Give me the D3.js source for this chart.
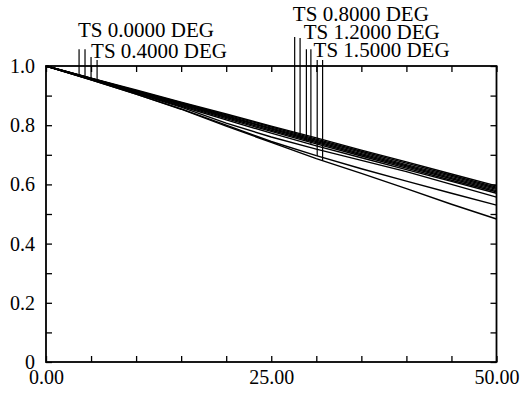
<!DOCTYPE html>
<html>
<head>
<meta charset="utf-8">
<script src="https://cdn.jsdelivr.net/npm/d3@7"></script>
<style>
  body { margin: 0; background: #fff; }
  svg text { font-family: "Liberation Serif", "Times New Roman", serif; font-size: 20px; fill: #000; }
</style>
</head>
<body>
<svg id="chart" width="523" height="398"></svg>
<script>
// sample positions along x
const xs = [0, 5, 10, 15, 20, 25, 30, 35, 40, 45, 50];

// curves, top of the bundle first
const c1 = [1, 0.959, 0.919, 0.878, 0.838, 0.797, 0.757, 0.716, 0.676, 0.635, 0.595];
const c2 = [1, 0.959, 0.917, 0.876, 0.835, 0.794, 0.753, 0.712, 0.672, 0.631, 0.591];
const c3 = [1, 0.958, 0.916, 0.874, 0.832, 0.790, 0.749, 0.708, 0.667, 0.627, 0.587];
const c4 = [1, 0.958, 0.915, 0.872, 0.829, 0.787, 0.745, 0.704, 0.663, 0.623, 0.583];
const c5 = [1, 0.957, 0.914, 0.870, 0.826, 0.783, 0.741, 0.700, 0.659, 0.619, 0.579];
const c6 = [1, 0.956, 0.912, 0.867, 0.822, 0.779, 0.737, 0.696, 0.655, 0.614, 0.575];
const c7 = [1, 0.955, 0.910, 0.864, 0.818, 0.773, 0.730, 0.690, 0.650, 0.610, 0.570];
const c8 = [1, 0.954, 0.908, 0.861, 0.807, 0.760, 0.719, 0.681, 0.643, 0.600, 0.557];
const c9 = [1, 0.953, 0.905, 0.855, 0.800, 0.745, 0.697, 0.653, 0.611, 0.570, 0.530];
const c10 = [1, 0.953, 0.905, 0.854, 0.797, 0.742, 0.687, 0.637, 0.586, 0.533, 0.483];
const curves = [c1, c2, c3, c4, c5, c6, c7, c8, c9, c10];

// label markers: x position, top level, which curve
const markerX = [3.67, 4.33, 5.0, 5.67, 27.6, 28.2, 28.9, 29.4, 30.1, 30.7];
const markerTop = [1.057, 1.057, 1.030, 1.020, 1.098, 1.095, 1.057, 1.057, 1.020, 1.020];
const markerCurve = [0, 1, 2, 7, 3, 4, 5, 6, 8, 9];

const labelText = ["TS 0.0000 DEG", "TS 0.4000 DEG", "TS 0.8000 DEG", "TS 1.2000 DEG", "TS 1.5000 DEG"];
const labelX = [3.55, 5.0, 27.4, 28.6, 29.7];
const labelY = [1.098, 1.027, 1.152, 1.091, 1.030];

const xTicks = d3.range(0, 50.01, 5);
const xLabels = [0, 25, 50];
const yTicks = d3.range(0, 1.001, 0.1);
const yLabels = [0, 0.2, 0.4, 0.6, 0.8, 1.0];

const svg = d3.select('#chart');
const pLeft = 46, pRight = 496.5, pTop = 66, pBottom = 362;

const x = d3.scaleLinear().domain([0, 50]).range([pLeft, pRight]);
const y = d3.scaleLinear().domain([0, 1]).range([pBottom, pTop]);

// ticks, all pointing inward
const tickAxes = [
  [d3.axisBottom(x).tickValues(xTicks), `translate(0,${pBottom})`],
  [d3.axisTop(x).tickValues(xTicks), `translate(0,${pTop})`],
  [d3.axisLeft(y).tickValues(yTicks), `translate(${pLeft},0)`],
  [d3.axisRight(y).tickValues(yTicks), `translate(${pRight},0)`]
];
tickAxes.forEach(([ax, tr]) => {
  svg.append('g')
  .attr('transform', tr)
  .call(ax.tickSize(-6).tickFormat(''))
  .call(g => g.select('.domain').remove())
  .selectAll('line').attr('stroke', '#000').attr('stroke-width', 1.3);
});

// tick labels
svg.append('g')
.attr('transform', `translate(0,${pBottom})`)
.call(d3.axisBottom(x).tickValues(xLabels).tickSize(0).tickPadding(8).tickFormat(d3.format('.2f')))
.call(g => g.select('.domain').remove())
.selectAll('text').attr('font-size', null).attr('font-family', null);

svg.append('g')
.attr('transform', `translate(${pLeft},0)`)
.call(d3.axisLeft(y).tickValues(yLabels).tickSize(0).tickPadding(11)
  .tickFormat(d => d === 0 ? '0' : d3.format('.1f')(d)))
.call(g => g.select('.domain').remove())
.selectAll('text').attr('font-size', null).attr('font-family', null);

// frame
svg.append('rect')
.attr('x', pLeft)
.attr('y', pTop)
.attr('width', pRight - pLeft)
.attr('height', pBottom - pTop)
.attr('fill', 'none')
.attr('stroke', '#000')
.attr('stroke-width', 1.8);

// curves
const line = d3.line()
.x((d, i) => x(xs[i]))
.y(d => y(d));

svg.append('g')
.selectAll('path')
.data(curves)
.join('path')
.attr('d', line)
.attr('fill', 'none')
.attr('stroke', '#000')
.attr('stroke-width', 1.4);

// markers from the label level down to their curve
const valueAt = (vals, xv) => d3.scaleLinear().domain(xs).range(vals)(xv);

svg.append('g')
.selectAll('line')
.data(markerX)
.join('line')
.attr('x1', d => x(d))
.attr('x2', d => x(d))
.attr('y1', (d, i) => y(markerTop[i]))
.attr('y2', (d, i) => y(valueAt(curves[markerCurve[i]], d)))
.attr('stroke', '#000')
.attr('stroke-width', 1.2);

svg.append('g')
.selectAll('text')
.data(labelText)
.join('text')
.attr('x', (d, i) => x(labelX[i]))
.attr('y', (d, i) => y(labelY[i]))
.attr('textLength', 136)
.attr('lengthAdjust', 'spacingAndGlyphs')
.text(d => d);
</script>
</body>
</html>
